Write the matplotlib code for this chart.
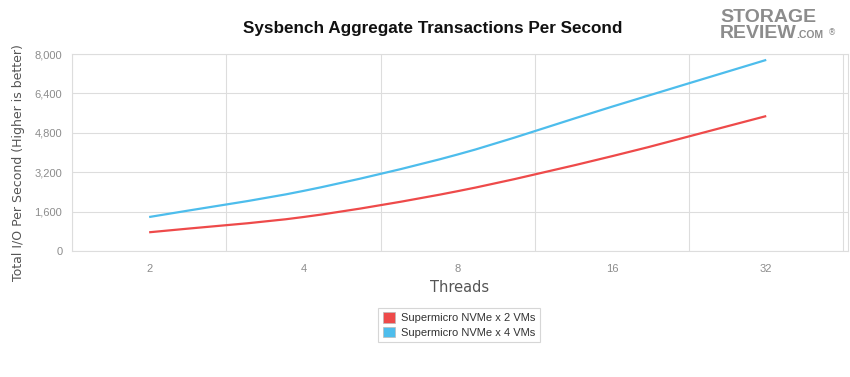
import matplotlib
matplotlib.use("Agg")
import matplotlib.pyplot as plt
from matplotlib.path import Path
from matplotlib.patches import PathPatch, Patch
import numpy as np

threads = ["2", "4", "8", "16", "32"]
vm2 = [760, 1380, 2430, 3850, 5480]
vm4 = [1380, 2440, 3920, 5860, 7760]
yticks = [0, 1600, 3200, 4800, 6400, 8000]
series_names = ["Supermicro NVMe x 2 VMs", "Supermicro NVMe x 4 VMs"]
colors = ["#ee4a4a", "#4dbdec"]

def smooth_path(xs, ys, t=0.3):
    xs = np.asarray(xs, float); ys = np.asarray(ys, float)
    verts = [(xs[0], ys[0])]; codes = [Path.MOVETO]
    n = len(xs)
    for i in range(n - 1):
        p0 = (xs[i-1], ys[i-1]) if i > 0 else (xs[i], ys[i])
        p1 = (xs[i], ys[i]); p2 = (xs[i+1], ys[i+1])
        p3 = (xs[i+2], ys[i+2]) if i + 2 < n else p2
        c1 = (p1[0] + (p2[0]-p0[0]) * t / 2 if i > 0 else p1[0] + (p2[0]-p1[0]) / 3,
              p1[1] + (p2[1]-p0[1]) * t / 2 if i > 0 else p1[1] + (p2[1]-p1[1]) / 3)
        c2 = (p2[0] - (p3[0]-p1[0]) * t / 2 if i + 2 < n else p2[0] - (p2[0]-p1[0]) / 3,
              p2[1] - (p3[1]-p1[1]) * t / 2 if i + 2 < n else p2[1] - (p2[1]-p1[1]) / 3)
        verts += [c1, c2, p2]; codes += [Path.CURVE4] * 3
    return Path(verts, codes)

fig = plt.figure(figsize=(8.5, 3.77), dpi=100)
ax = fig.add_axes([72/850, 1-251/377, (848-72)/850, (251-54)/377])

x = np.arange(len(threads))
for vals, c in zip([vm2, vm4], colors):
    ax.add_patch(PathPatch(smooth_path(x, vals), facecolor="none", edgecolor=c, lw=1.6, zorder=3))
    ax.plot(x, vals, color=c, lw=0, zorder=3)

ax.set_xlim(-0.5, 4.53)
ax.set_ylim(0, 8000)
ax.set_yticks(yticks)
ax.set_yticklabels([f"{v:,}" for v in yticks])
ax.set_xticks(x)
ax.set_xticklabels(threads)
for b in np.arange(-0.5, 5, 1.0):
    ax.axvline(b, color="#dddddd", lw=0.8, zorder=1)
ax.yaxis.grid(True, color="#dddddd", lw=0.8, zorder=1)
ax.set_axisbelow(True)
for s in ax.spines.values():
    s.set_color("#dddddd"); s.set_linewidth(0.8)
ax.tick_params(length=0, colors="#8c8c8c", labelsize=8)
ax.tick_params(axis="y", pad=7)
ax.tick_params(axis="x", pad=9)
for lab in ax.get_xticklabels() + ax.get_yticklabels():
    lab.set_family("Liberation Sans")

ax.set_ylabel("Total I/O Per Second (Higher is better)", fontsize=9, color="#555555",
              family="DejaVu Sans")
ax.yaxis.set_label_coords((25-72)/776, 0.45)
ax.set_xlabel("Threads", fontsize=10.5, color="#555555", family="DejaVu Sans", labelpad=5)
fig.text(433/850, 1-29/377, "Sysbench Aggregate Transactions Per Second", ha="center", va="center",
         fontsize=12.3, fontweight="bold", family="Liberation Sans", color="#111111")

handles = [Patch(facecolor=c, edgecolor="#bbbbbb", lw=0.5) for c in colors]
leg = fig.legend(handles, series_names, loc="center", bbox_to_anchor=(459/850, 1-325/377),
                 frameon=True, fancybox=False, handlelength=1.1, handleheight=1.1,
                 handletextpad=0.5, borderpad=0.4, labelspacing=0.3,
                 prop={"family": "Liberation Sans", "size": 8})
leg.get_frame().set_edgecolor("#cccccc")
leg.get_frame().set_linewidth(0.8)
for t in leg.get_texts():
    t.set_color("#333333")

fig.text(768/850, 1-17/377, "STORAGE", ha="center", va="center", fontsize=14, fontweight="bold",
         color="#8c8c8c", family="Liberation Sans")
fig.text(758/850, 1-34/377, "REVIEW", ha="center", va="center", fontsize=14, fontweight="bold",
         color="#8c8c8c", family="Liberation Sans")
fig.text(810/850, 1-35/377, ".COM", ha="center", va="center", fontsize=7.5, fontweight="bold",
         color="#8c8c8c", family="Liberation Sans")
fig.text(832/850, 1-33/377, "®", ha="center", va="center", fontsize=6, color="#8c8c8c")

fig.savefig("out.png", dpi=100)
